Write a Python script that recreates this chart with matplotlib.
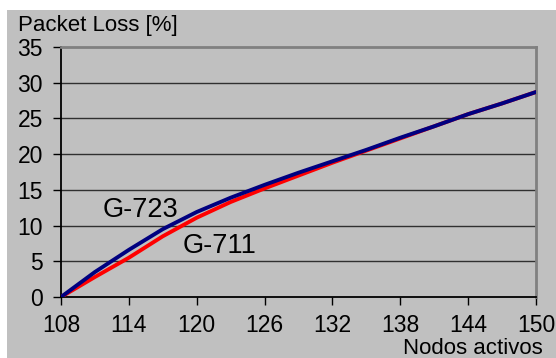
import matplotlib
matplotlib.use("Agg")
import matplotlib.pyplot as plt
from matplotlib.patches import Rectangle

nodes = [108, 111, 114, 117, 120, 123, 126, 129, 132, 135, 138, 141, 144, 147, 150]
g723 = [0, 3.5, 6.6, 9.5, 11.9, 13.9, 15.7, 17.4, 19.0, 20.6, 22.3, 23.9, 25.6, 27.1, 28.7]
g711 = [0, 2.8, 5.5, 8.5, 11.1, 13.3, 15.2, 17.0, 18.8, 20.5, 22.2, 23.9, 25.6, 27.1, 28.7]
xticks = [108, 114, 120, 126, 132, 138, 144, 150]
yticks = [0, 5, 10, 15, 20, 25, 30, 35]

plt.rcParams['font.family'] = ['Liberation Sans', 'DejaVu Sans']

W, H = 556, 358
fig = plt.figure(figsize=(W/100, H/100), dpi=100, facecolor='white')
fig.patches.append(Rectangle((7/W, 0), 1 - 7/W, 1 - 10/H, transform=fig.transFigure,
                             facecolor='#c0c0c0', edgecolor='none', zorder=-10))

ax = fig.add_axes([61/W, (H-297)/H, 475/W, 250/H])
ax.set_facecolor('#c0c0c0')
for y in yticks[1:-1]:
    ax.axhline(y, color='#303030', lw=1.0, zorder=1)

ax.plot(nodes, g711, color='#ff0000', lw=2.8, zorder=3, solid_capstyle='round')
ax.plot(nodes, g723, color='#000080', lw=2.8, zorder=4, solid_capstyle='round')

ax.set_xlim(108, 150)
ax.set_ylim(0, 35)
ax.set_xticks(xticks)
ax.set_yticks(yticks)
ax.tick_params(axis='both', direction='out', length=6, width=1.0, color='black',
               labelsize=16.5, labelcolor='black')
ax.tick_params(axis='x', pad=6)
ax.tick_params(axis='y', pad=7)
ax.spines['left'].set_color('black')
ax.spines['bottom'].set_color('black')
ax.spines['left'].set_linewidth(1.3)
ax.spines['bottom'].set_linewidth(1.3)
ax.spines['top'].set_color('#808080')
ax.spines['right'].set_color('#808080')
ax.spines['top'].set_linewidth(2)
ax.spines['right'].set_linewidth(2)

fig.text(18/W, 1 - 31/H, 'Packet Loss [%]', fontsize=16, ha='left', va='baseline')
fig.text(543/W, 1 - 354/H, 'Nodos activos', fontsize=16, ha='right', va='baseline')
fig.text(103/W, 1 - 217/H, 'G-723', fontsize=19.5, ha='left', va='baseline')
fig.text(183/W, 1 - 253/H, 'G-711', fontsize=19.5, ha='left', va='baseline')

fig.savefig('out.png', dpi=100, facecolor='white')
